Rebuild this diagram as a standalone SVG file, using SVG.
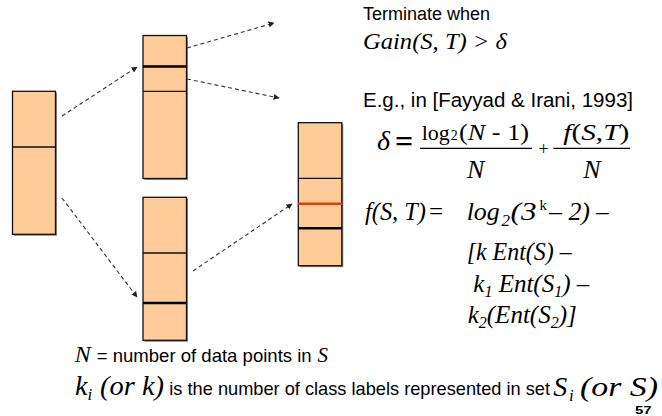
<svg xmlns="http://www.w3.org/2000/svg" width="662" height="416" viewBox="0 0 662 416">
<defs>
<marker id="ah" viewBox="0 0 10 10" refX="9" refY="5" markerWidth="6" markerHeight="6" orient="auto" markerUnits="userSpaceOnUse">
<path d="M0,0 L10,5 L0,10 z" fill="#222"/>
</marker>
<style>
.bar{fill:#FFCC99;stroke:#111;stroke-width:1.3}
.sh{fill:#888}
.thin{stroke:#111;stroke-width:1.3}
.thick{stroke:#000;stroke-width:2.6}
.red{stroke:#D9420B;stroke-width:2.6}
.conn{fill:none;stroke:#333;stroke-width:1.1;stroke-dasharray:4 3;marker-end:url(#ah)}
.sans{font-family:"Liberation Sans",Arial,sans-serif;fill:#000}
.ser{font-family:"Liberation Serif","Times New Roman",serif;fill:#000}
.it{font-style:italic}
</style>
</defs>
<rect width="662" height="416" fill="#fff"/>

<g id="bar-left">
<rect class="sh" x="14" y="92.8" width="43" height="143"/>
<rect class="bar" x="12.5" y="91.3" width="43" height="143"/>
<line class="thin" x1="12.5" y1="147" x2="55.5" y2="147"/>
</g>

<g id="bar-mid-top">
<rect class="sh" x="144.5" y="37" width="43.5" height="143"/>
<rect class="bar" x="143" y="35.5" width="43.5" height="143"/>
<line class="thick" x1="143" y1="66.5" x2="186.5" y2="66.5"/>
<line class="thin" x1="143" y1="91.3" x2="186.5" y2="91.3"/>
</g>

<g id="bar-mid-bottom">
<rect class="sh" x="144.5" y="198.8" width="43.5" height="143"/>
<rect class="bar" x="143" y="197.3" width="43.5" height="143"/>
<line class="thin" x1="143" y1="253" x2="186.5" y2="253"/>
<line class="thick" x1="143" y1="303" x2="186.5" y2="303"/>
</g>

<g id="bar-right">
<rect class="sh" x="299.8" y="124.2" width="43.5" height="143"/>
<rect class="bar" x="298.3" y="122.7" width="43.5" height="143"/>
<line class="thin" x1="298.3" y1="178.3" x2="341.8" y2="178.3"/>
<line class="red" x1="298.3" y1="203.7" x2="341.8" y2="203.7"/>
<line class="thick" x1="298.3" y1="228.3" x2="341.8" y2="228.3"/>
</g>

<g id="connectors">
<line class="conn" x1="62" y1="116" x2="137" y2="67"/>
<line class="conn" x1="187" y1="48" x2="274" y2="23"/>
<line class="conn" x1="187" y1="79" x2="279" y2="98"/>
<line class="conn" x1="62" y1="198" x2="137" y2="297"/>
<line class="conn" x1="193" y1="271" x2="292" y2="204"/>
</g>

<g id="terminate">
<text class="sans" x="363" y="20" font-size="18">Terminate when</text>
<text class="ser it" x="363" y="48.5" font-size="24" textLength="144" lengthAdjust="spacingAndGlyphs">Gain(S, T) &gt; δ</text>
</g>

<g id="example">
<text class="sans" x="363" y="106.5" font-size="20.5" textLength="270" lengthAdjust="spacingAndGlyphs">E.g., in [Fayyad &amp; Irani, 1993]</text>
</g>

<g id="delta-formula">
<text class="ser it" x="377" y="150" font-size="28">δ</text>
<text class="ser" x="395" y="152" font-size="32" font-weight="bold">=</text>
<text class="ser" x="421.7" y="140" font-size="22">log<tspan font-size="14" dx="1">2</tspan></text>
<text class="ser" x="459" y="140" font-size="24" textLength="70" lengthAdjust="spacingAndGlyphs">(<tspan class="it">N</tspan> - 1)</text>
<line x1="420" y1="148.3" x2="532" y2="148.3" stroke="#000" stroke-width="1.3"/>
<text class="ser it" x="467" y="178" font-size="26">N</text>
<text class="ser" x="538.5" y="155" font-size="18">+</text>
<text class="ser it" x="563.3" y="140" font-size="24" textLength="66" lengthAdjust="spacingAndGlyphs">f<tspan font-style="normal">(</tspan>S<tspan font-style="normal">,</tspan>T<tspan font-style="normal">)</tspan></text>
<line x1="553.3" y1="148.3" x2="630" y2="148.3" stroke="#000" stroke-width="1.3"/>
<text class="ser it" x="583.3" y="178" font-size="26">N</text>
</g>

<g id="f-formula">
<text class="ser it" x="365" y="220" font-size="25" textLength="61" lengthAdjust="spacingAndGlyphs">f(S, T)</text>
<text class="ser" x="429" y="220" font-size="25">=</text>
<text class="ser it" x="466.7" y="220" font-size="25" textLength="33" lengthAdjust="spacingAndGlyphs">log</text>
<text class="ser it" x="501.5" y="226" font-size="17">2</text>
<text class="ser it" x="510.5" y="220" font-size="25" textLength="26" lengthAdjust="spacingAndGlyphs">(3</text>
<text class="ser" x="539.5" y="210" font-size="15">k</text>
<text class="ser it" x="549" y="220" font-size="25" textLength="41" lengthAdjust="spacingAndGlyphs">– 2)</text>
<text class="ser it" x="596" y="220" font-size="25">–</text>
<text class="ser it" x="466.7" y="260" font-size="25" textLength="105" lengthAdjust="spacingAndGlyphs">[k Ent(S) –</text>
<text class="ser it" x="473.3" y="291.7" font-size="25">k<tspan font-size="16" dy="5">1</tspan><tspan dy="-5"> Ent(S</tspan><tspan font-size="16" dy="5">1</tspan><tspan dy="-5">) –</tspan></text>
<text class="ser it" x="467.7" y="323.3" font-size="25">k<tspan font-size="16" dy="5">2</tspan><tspan dy="-5">(Ent(S</tspan><tspan font-size="16" dy="5">2</tspan><tspan dy="-5">)]</tspan></text>
</g>

<g id="notes">
<text class="ser it" x="74.7" y="361.7" font-size="24">N</text>
<text class="sans" x="96.7" y="361.7" font-size="18.4" textLength="215" lengthAdjust="spacingAndGlyphs">= number of data points in</text>
<text class="ser it" x="317.5" y="361.7" font-size="21">S</text>
<text class="ser it" x="75" y="395" font-size="28">k</text>
<text class="ser it" x="87.5" y="400" font-size="17">i</text>
<text class="ser it" x="100" y="395" font-size="28" textLength="64" lengthAdjust="spacingAndGlyphs">(or k)</text>
<text class="sans" x="169.3" y="395" font-size="18.4" textLength="380.7" lengthAdjust="spacingAndGlyphs">is the number of class labels represented in set</text>
<text class="ser it" x="553.3" y="396" font-size="28">S</text>
<text class="ser it" x="569" y="401" font-size="17">i</text>
<text class="ser it" x="580" y="396" font-size="28" textLength="78" lengthAdjust="spacingAndGlyphs">(or S)</text>
<text class="sans" x="635" y="414.3" font-size="11" font-weight="bold" textLength="16.7" lengthAdjust="spacingAndGlyphs">57</text>
</g>
</svg>
